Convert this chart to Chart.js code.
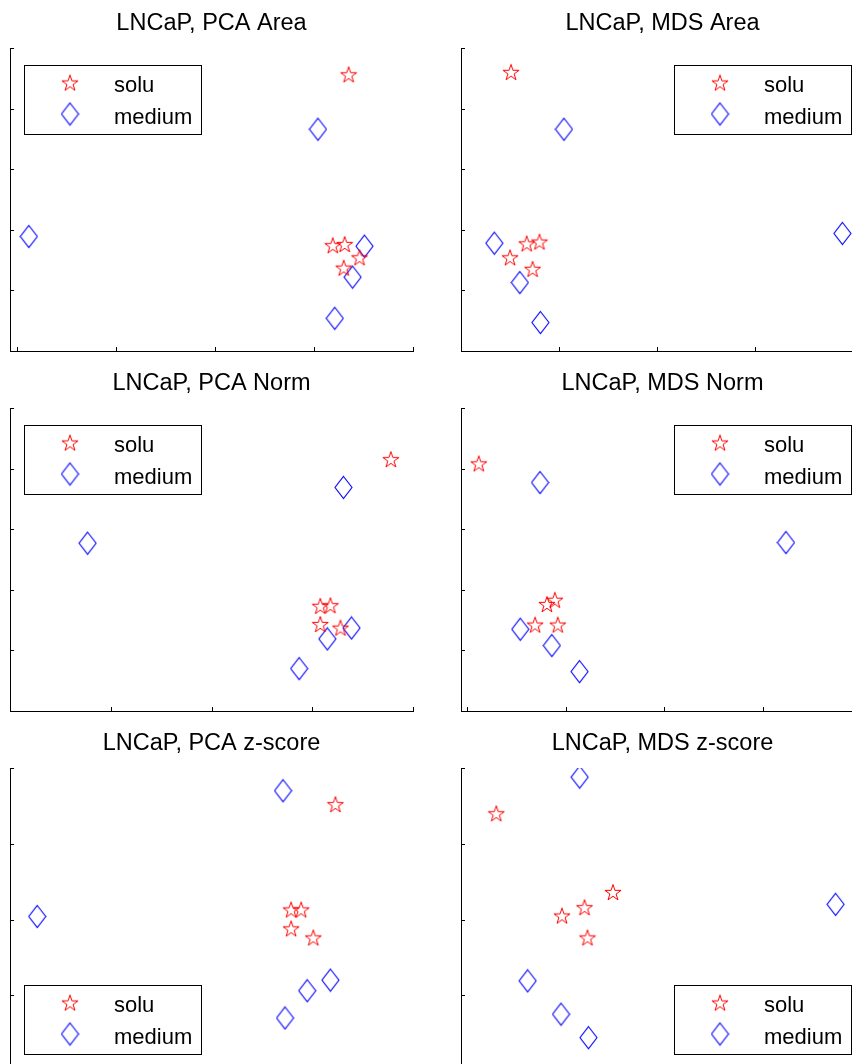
<!DOCTYPE html>
<html>
<head>
<meta charset="utf-8">
<title>LNCaP PCA / MDS</title>
<script src="https://cdn.jsdelivr.net/npm/chart.js"></script>
<style>
  html, body { margin: 0; padding: 0; background: #fff; overflow: hidden; }
  #page { position: relative; width: 852px; height: 1064px; overflow: hidden; background: #fff; }
  #page canvas { position: absolute; }
</style>
</head>
<body>
<div id="page">
  <canvas id="pcaArea" width="413" height="356" style="left:5px; top:0px;"></canvas>
  <canvas id="mdsArea" width="413" height="356" style="left:456px; top:0px;"></canvas>
  <canvas id="pcaNorm" width="413" height="356" style="left:5px; top:360px;"></canvas>
  <canvas id="mdsNorm" width="413" height="356" style="left:456px; top:360px;"></canvas>
  <canvas id="pcaZ" width="413" height="356" style="left:5px; top:720px;"></canvas>
  <canvas id="mdsZ" width="413" height="356" style="left:456px; top:720px;"></canvas>
</div>
<script>
// ------------------ Data (x, y) ---------------------------------------
var seriesNames = ['solu', 'medium'];

// PCA Area
var pcaAreaSolu = [[3.35, 4.55], [3.19, 1.73], [3.31, 1.75], [3.46, 1.53], [3.30, 1.36]];
var pcaAreaMedium = [[3.04, 3.66], [0.12, 1.89], [3.51, 1.73], [3.39, 1.22], [3.21, 0.54]];
// MDS Area
var mdsAreaSolu = [[0.51, 4.59], [0.67, 1.76], [0.80, 1.79], [0.50, 1.53], [0.73, 1.34]];
var mdsAreaMedium = [[1.05, 3.66], [0.34, 1.78], [3.89, 1.94], [0.60, 1.13], [0.81, 0.47]];
// PCA Norm
var pcaNormSolu = [[3.78, 4.14], [3.08, 1.72], [3.18, 1.73], [3.08, 1.42], [3.28, 1.36]];
var pcaNormMedium = [[3.31, 3.69], [0.77, 2.77], [3.15, 1.19], [3.39, 1.37], [2.87, 0.70]];
// MDS Norm
var mdsNormSolu = [[0.12, 4.07], [0.81, 1.75], [0.89, 1.82], [0.69, 1.41], [0.92, 1.41]];
var mdsNormMedium = [[0.74, 3.77], [3.23, 2.78], [0.54, 1.35], [0.86, 1.08], [1.14, 0.65]];
// PCA z-score
var pcaZSolu = [[3.23, 3.51], [2.79, 2.12], [2.89, 2.12], [2.79, 1.87], [3.01, 1.75]];
var pcaZMedium = [[2.71, 3.70], [0.27, 2.04], [3.18, 1.20], [2.95, 1.06], [2.73, 0.70]];
// MDS z-score
var mdsZSolu = [[0.36, 3.39], [1.03, 2.04], [1.26, 2.15], [1.55, 2.35], [1.29, 1.75]];
var mdsZMedium = [[1.21, 3.88], [0.68, 1.19], [3.82, 2.20], [1.02, 0.75], [1.30, 0.44]];

// tick positions (no tick labels in the figure)
var xTicks = [0, 1, 2, 3, 4];
var yTicksTop = [0, 1, 2, 3, 4, 5];
var yTicksBottom = [0, 1, 2, 3, 4];

var FONT = '"Liberation Sans", Arial, Helvetica, sans-serif';

// ------------------ Marker images (MATLAB pentagram / diamond) -------------------
function makeStar(color) {
  var c = document.createElement('canvas');
  c.width = 20; c.height = 20;
  var g = c.getContext('2d');
  g.strokeStyle = color;
  g.lineWidth = 1;
  g.beginPath();
  for (var i = 0; i < 10; i++) {
    var r = (i % 2 === 0) ? 8.5 : 3.25;
    var a = -Math.PI / 2 + i * Math.PI / 5;
    var px = 10 + r * Math.cos(a), py = 10 + r * Math.sin(a);
    if (i === 0) g.moveTo(px, py); else g.lineTo(px, py);
  }
  g.closePath();
  g.stroke();
  return c;
}

function makeDiamond(color) {
  var c = document.createElement('canvas');
  c.width = 19; c.height = 25;
  var g = c.getContext('2d');
  g.strokeStyle = color;
  g.lineWidth = 1.1;
  g.beginPath();
  g.moveTo(9.5, 1.5);
  g.lineTo(18, 12.5);
  g.lineTo(9.5, 23.5);
  g.lineTo(1, 12.5);
  g.closePath();
  g.stroke();
  return c;
}

var starImg = makeStar('#ff0000');
var diamondImg = makeDiamond('#0000ff');

// ------------------ Plugins -------------------
// inward tick marks, like MATLAB axes
var matlabTicks = {
  id: 'matlabTicks',
  afterDraw: function(chart) {
    var ctx = chart.ctx, area = chart.chartArea;
    var xs = chart.scales.x, ys = chart.scales.y;
    ctx.save();
    ctx.strokeStyle = '#000';
    ctx.lineWidth = 1;
    ctx.beginPath();
    xs.ticks.forEach(function(t) {
      var px = Math.round(xs.getPixelForValue(t.value)) + 0.5;
      ctx.moveTo(px, area.bottom);
      ctx.lineTo(px, area.bottom - 4);
    });
    ys.ticks.forEach(function(t) {
      var py = Math.round(ys.getPixelForValue(t.value)) + 0.5;
      ctx.moveTo(area.left, py);
      ctx.lineTo(area.left + 4, py);
    });
    ctx.stroke();
    ctx.restore();
  }
};

// boxed legend inside the axes
var boxLegend = {
  id: 'boxLegend',
  afterDraw: function(chart, args, opts) {
    var ctx = chart.ctx, area = chart.chartArea;
    var w = 177, h = 69;
    var corner = opts.corner || 'nw';
    var left = (corner === 'nw' || corner === 'sw') ? area.left + 14 : area.right - 13 - w;
    var top = (corner === 'nw' || corner === 'ne') ? area.top + 17 : area.bottom - 17 - h;
    left = Math.round(left); top = Math.round(top);

    ctx.save();
    ctx.fillStyle = '#fff';
    ctx.fillRect(left, top, w, h);
    ctx.strokeStyle = '#000';
    ctx.lineWidth = 1;
    ctx.strokeRect(left + 0.5, top + 0.5, w, h);

    var rowY = [18.5, 49];
    var baseY = [26.7, 59];
    ctx.font = '22px ' + FONT;
    ctx.fillStyle = '#000';
    ctx.textBaseline = 'alphabetic';
    ctx.textAlign = 'left';
    chart.data.datasets.forEach(function(ds, i) {
      var img = ds.pointStyle;
      ctx.drawImage(img, left + 46 - img.width / 2, top + rowY[i] - img.height / 2);
      ctx.fillText(ds.label, left + 90, top + baseY[i]);
    });
    ctx.restore();
  }
};

function toPoints(arr) {
  return arr.map(function(p) { return { x: p[0], y: p[1] }; });
}

// ------------------ Build one subplot -------------------
function makePanel(id, title, solu, medium, xMin, xMax, yMax, yTicks, corner) {
  var ctx = document.getElementById(id).getContext('2d');
  return new Chart(ctx, {
    type: 'scatter',
    data: {
      datasets: [{
        label: seriesNames[0],
        data: toPoints(solu),
        pointStyle: starImg,
        pointRadius: 9,
        pointHoverRadius: 9
      }, {
        label: seriesNames[1],
        data: toPoints(medium),
        pointStyle: diamondImg,
        pointRadius: 10,
        pointHoverRadius: 10
      }]
    },
    options: {
      responsive: false,
      animation: false,
      events: [],
      layout: { autoPadding: false, padding: { left: 5, right: 5, top: 0, bottom: 5 } },
      scales: {
        x: {
          type: 'linear',
          min: xMin,
          max: xMax,
          border: { display: true, color: '#000', width: 1 },
          grid: { display: false, drawTicks: false },
          ticks: { display: false },
          afterBuildTicks: function(s) {
            s.ticks = xTicks.map(function(v) { return { value: v }; });
          }
        },
        y: {
          type: 'linear',
          min: 0,
          max: yMax,
          border: { display: true, color: '#000', width: 1 },
          grid: { display: false, drawTicks: false },
          ticks: { display: false },
          afterBuildTicks: function(s) {
            s.ticks = yTicks.map(function(v) { return { value: v }; });
          }
        }
      },
      plugins: {
        legend: { display: false },
        tooltip: { enabled: false },
        title: {
          display: true,
          text: title,
          color: '#000',
          font: { family: FONT, size: 23.5, weight: 'normal', lineHeight: '28px' },
          padding: { top: 10, bottom: 10 }
        },
        boxLegend: { corner: corner }
      }
    },
    plugins: [matlabTicks, boxLegend]
  });
}

// ------------------ The six subplots -------------------
makePanel('pcaArea', 'LNCaP, PCA Area', pcaAreaSolu, pcaAreaMedium, -0.07, 4, 5, yTicksTop, 'nw');
makePanel('mdsArea', 'LNCaP, MDS Area', mdsAreaSolu, mdsAreaMedium, 0, 4.11, 5, yTicksTop, 'ne');
makePanel('pcaNorm', 'LNCaP, PCA Norm', pcaNormSolu, pcaNormMedium, 0, 4, 5, yTicksTop, 'nw');
makePanel('mdsNorm', 'LNCaP, MDS Norm', mdsNormSolu, mdsNormMedium, -0.06, 4.02, 5, yTicksTop, 'ne');
makePanel('pcaZ', 'LNCaP, PCA z-score', pcaZSolu, pcaZMedium, 0, 4, 4, yTicksBottom, 'sw');
makePanel('mdsZ', 'LNCaP, MDS z-score', mdsZSolu, mdsZMedium, 0, 4.11, 4, yTicksBottom, 'se');
</script>
</body>
</html>
